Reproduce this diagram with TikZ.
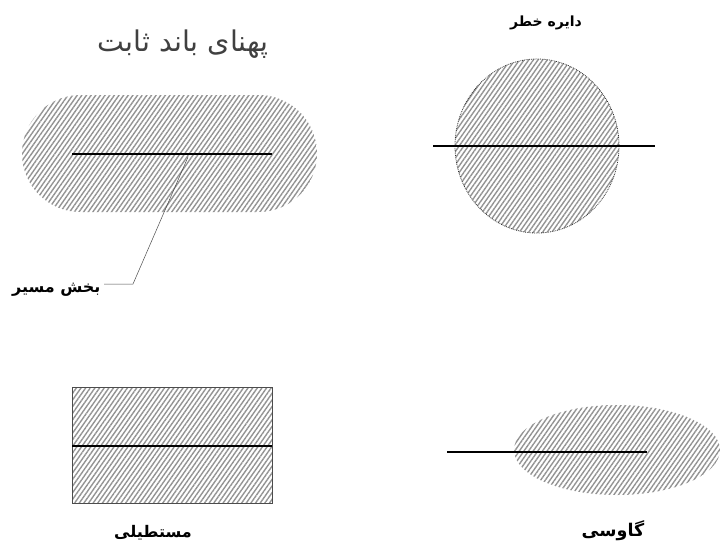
\documentclass[tikz,border=0pt]{standalone}
\usepackage{fontspec}
\usetikzlibrary{patterns.meta, shapes.misc, shapes.geometric}
\TeXXeTstate=1
\newfontfamily\arabicfont[Script=Arabic]{DejaVu Sans}

\begin{document}
\begin{tikzpicture}[x=1pt, y=-1pt,
    hatch/.style={pattern={Lines[angle=55, distance=3.8pt, line width=1.4pt]}, pattern color=gray!85, inner sep=0pt},
    route/.style={line width=1.7pt, black},
    title/.style={font=\arabicfont\fontsize{28.5}{32}\selectfont, text=black!75},
    lbl/.style={font=\arabicfont\bfseries\fontsize{16}{19}\selectfont}]
  \useasboundingbox (0,0) rectangle (722,550);

  % پهنای باند ثابت
  \node[title] (bandtitle) at (183,44) {\beginR پهنای باند ثابت\endR};
  \node[hatch, rounded rectangle, minimum width=295pt, minimum height=117pt] (band) at (169.5,153.5) {};
  \draw[route] (72,154) -- (272,154);
  \coordinate (pathpt) at (188,157);
  \coordinate (bend) at (133,284);
  \node[lbl, anchor=east] (pathlbl) at (104,290) {\beginR بخش مسیر\endR};
  \draw[gray!60!black, line width=0.5pt] (pathpt) -- (bend) -- (pathlbl.east |- bend);

  % دایره خطر
  \node[lbl, font=\arabicfont\bfseries\fontsize{14}{17}\selectfont] (risktitle) at (546,23) {\beginR دایره خطر\endR};
  \node[hatch, ellipse, minimum width=164pt, minimum height=174pt] (risk) at (537,146) {};
  \draw[gray!40!black, line width=0.8pt, densely dotted] (risk.center) ellipse[x radius=82, y radius=87];
  \draw[route] (433,146) -- (655,146);

  % مستطیلی
  \node[hatch, draw=gray!60!black, line width=0.6pt, minimum width=200pt, minimum height=116pt] (rect) at (172,445) {};
  \draw[route] (72,446) -- (272,446);
  \node[lbl] (rectlbl) at (153,533) {\beginR مستطیلی\endR};

  % گاوسی
  \node[hatch, ellipse, minimum width=206pt, minimum height=90pt] (gauss) at (617,450) {};
  \draw[route] (447,452) -- (647,452);
  \node[lbl, font=\arabicfont\bfseries\fontsize{17.5}{20}\selectfont] (gausslbl) at (613,531) {\beginR گاوسی\endR};
\end{tikzpicture}
\end{document}
